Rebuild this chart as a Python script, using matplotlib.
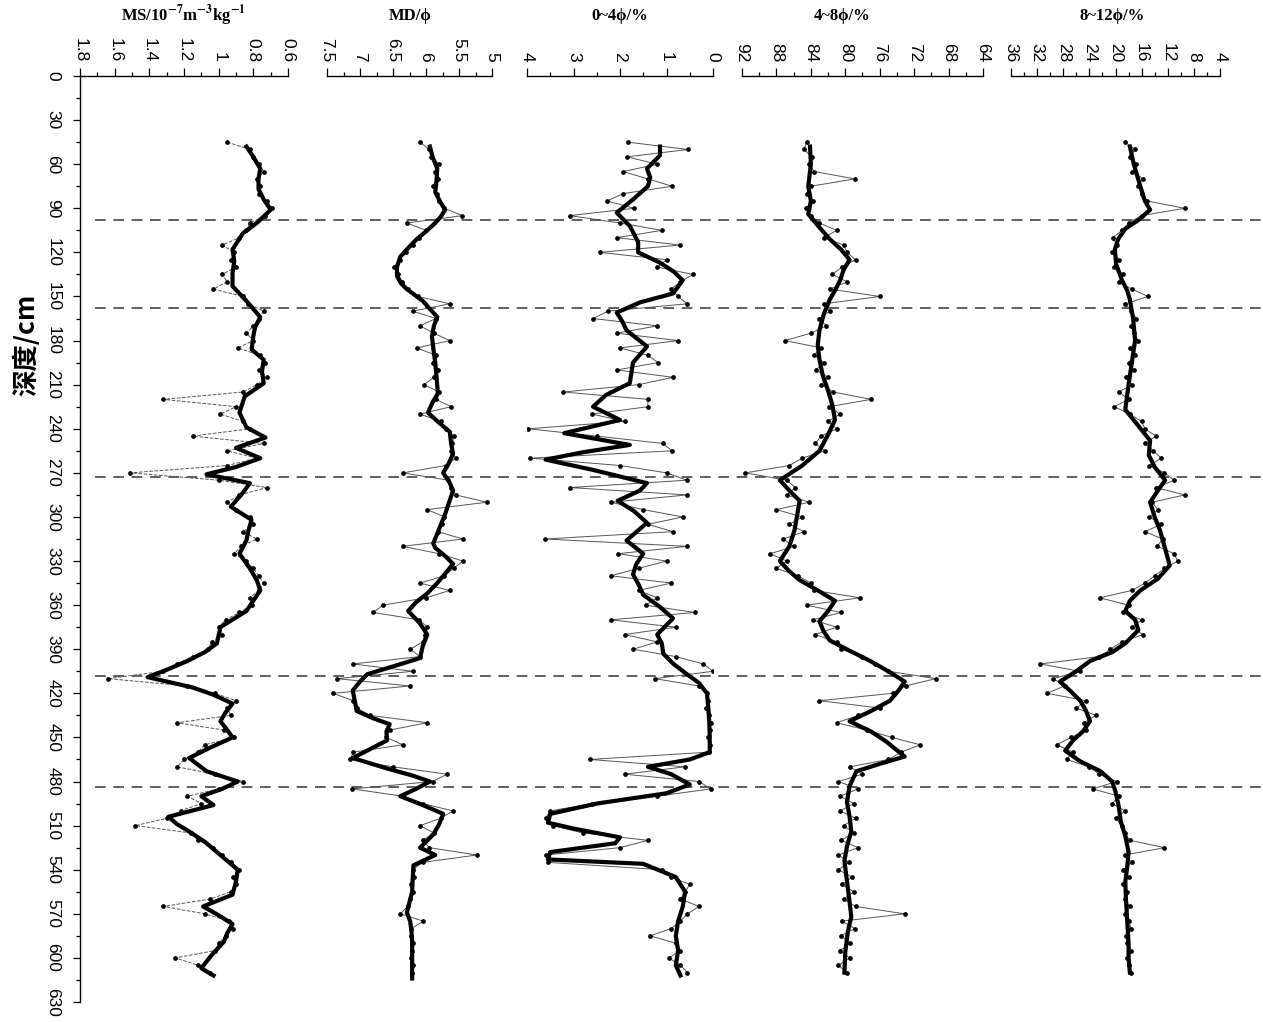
import numpy as np
import matplotlib
matplotlib.use("Agg")
import matplotlib.pyplot as plt
from matplotlib.ticker import MultipleLocator, FormatStrFormatter

plt.rcParams['font.family'] = ['Liberation Sans', 'DejaVu Sans']
plt.rcParams['mathtext.fontset'] = 'stix'

# ---------------- data ----------------
# raw samples every 5 cm, 45-610 cm
raw_depth = np.arange(45, 611, 5)

ms_raw = [0.95, 0.82, 0.80, 0.77, 0.74, 0.78, 0.76, 0.77, 0.72, 0.69,
          0.73, 0.82, 0.84, 0.88, 0.98, 0.91, 0.93, 0.90, 0.98, 0.95,
          1.03, 0.86, 0.83, 0.74, 0.77, 0.80, 0.84, 0.80, 0.89, 0.76,
          0.73, 0.77, 0.72, 0.78, 0.86, 1.32, 0.90, 0.99, 0.86, 0.82,
          1.15, 0.74, 0.95, 0.78, 0.95, 1.51, 1.00, 0.72, 0.88, 0.95,
          0.90, 0.82, 0.80, 0.86, 0.78, 0.87, 0.91, 0.84, 0.80, 0.77,
          0.74, 0.77, 0.82, 0.81, 0.88, 0.96, 1.00, 0.98, 1.04, 1.06,
          1.15, 1.24, 1.32, 1.64, 1.18, 1.02, 0.90, 0.95, 0.93, 1.24,
          0.97, 0.91, 1.08, 1.12, 1.20, 1.24, 1.02, 0.86, 1.00, 1.18,
          1.10, 1.22, 1.30, 1.48, 1.16, 1.12, 1.03, 0.98, 0.93, 0.88,
          0.92, 0.90, 0.93, 1.05, 1.32, 1.08, 0.94, 0.92, 0.96, 1.00,
          1.02, 1.25, 1.12, 1.05]

md_raw = [6.09, 5.95, 5.92, 5.80, 5.86, 5.82, 5.90, 5.84, 5.80, 5.72,
          5.45, 6.29, 6.00, 6.10, 6.20, 6.30, 6.40, 6.48, 6.42, 6.36,
          6.28, 6.12, 5.64, 6.20, 5.85, 6.09, 5.88, 5.64, 6.14, 5.85,
          5.90, 5.82, 5.88, 6.03, 5.80, 5.85, 5.62, 6.09, 5.78, 5.70,
          5.58, 5.60, 5.62, 5.55, 5.70, 6.35, 5.66, 5.62, 5.55, 5.08,
          5.98, 5.72, 5.76, 5.82, 5.44, 6.35, 5.80, 5.44, 5.58, 5.72,
          6.09, 5.64, 6.00, 6.65, 6.80, 6.10, 5.98, 6.02, 6.05, 6.24,
          6.09, 7.11, 6.20, 7.35, 6.24, 7.41, 7.10, 7.05, 6.85, 5.98,
          6.55, 6.60, 6.35, 7.10, 7.15, 6.50, 5.68, 5.90, 7.12, 6.35,
          6.05, 5.59, 5.78, 6.09, 5.88, 6.05, 5.95, 5.23, 6.05, 6.20,
          6.18, 6.22, 6.20, 6.25, 6.28, 6.39, 6.04, 6.22, 6.23, 6.20,
          6.21, 6.22, 6.20, 6.21]

c04_raw = [1.83, 0.54, 1.85, 1.20, 1.93, 1.40, 0.88, 1.93, 2.28, 1.70,
           3.08, 2.00, 1.10, 2.07, 0.71, 2.43, 1.00, 1.20, 0.43, 0.70,
           0.90, 0.75, 0.56, 2.26, 2.58, 1.20, 2.07, 0.75, 2.00, 1.40,
           1.18, 2.07, 0.86, 1.60, 3.22, 1.40, 1.40, 2.60, 1.90, 3.97,
           2.50, 1.08, 0.88, 3.93, 2.00, 1.00, 0.56, 3.08, 0.56, 2.20,
           1.50, 0.65, 1.40, 0.86, 3.61, 0.56, 2.04, 1.00, 1.60, 2.20,
           0.90, 1.60, 1.20, 1.45, 0.39, 2.20, 0.80, 1.90, 1.20, 1.72,
           0.80, 0.21, 0.00, 1.25, 0.30, 0.12, 0.10, 0.15, 0.08, 0.05,
           0.07, 0.10, 0.06, 0.08, 2.65, 0.60, 1.90, 0.30, 0.05, 1.20,
           2.60, 3.50, 3.60, 3.45, 2.80, 1.40, 2.00, 3.60, 3.55, 1.10,
           0.90, 0.50, 0.60, 0.70, 0.30, 0.55, 0.70, 0.90, 1.35, 0.80,
           0.70, 0.95, 0.70, 0.55]

c48_raw = [84.5, 84.8, 83.9, 84.2, 83.6, 78.9, 84.0, 84.5, 83.8, 84.6,
           84.0, 83.0, 81.0, 82.5, 80.2, 79.8, 78.8, 80.4, 81.5, 79.8,
           81.8, 76.0, 82.5, 81.8, 83.0, 82.2, 84.0, 87.0, 82.8, 83.6,
           82.5, 83.4, 82.0, 82.8, 81.4, 77.0, 81.9, 80.6, 82.0, 81.0,
           82.8, 83.5, 82.4, 85.0, 86.5, 91.6, 86.8, 85.8, 86.8, 84.2,
           88.0, 85.0, 86.5, 84.8, 87.2, 86.0, 88.7, 86.8, 88.0, 85.5,
           84.0, 83.6, 78.3, 84.5, 80.5, 83.8, 81.0, 83.5, 81.0, 80.5,
           78.0, 76.5, 75.0, 69.5, 73.0, 74.5, 83.0, 76.0, 78.5, 81.0,
           77.5, 74.6, 71.3, 73.5, 75.0, 79.5, 78.0, 80.8, 78.5, 80.6,
           79.0, 80.6, 78.8, 80.2, 79.0, 80.5, 78.5, 80.8, 79.6, 80.8,
           79.2, 80.4, 79.0, 80.2, 78.8, 73.1, 80.4, 78.9, 80.5, 79.4,
           80.6, 79.5, 80.8, 79.8]

c812_raw = [18.5, 17.0, 17.8, 16.8, 17.4, 15.8, 16.6, 16.0, 15.2, 9.4,
            16.0, 18.0, 19.0, 20.4, 19.8, 20.6, 19.5, 20.2, 18.8, 19.5,
            17.5, 15.0, 18.5, 17.6, 16.8, 17.6, 17.2, 16.5, 17.8, 17.0,
            18.0, 17.2, 18.4, 17.5, 19.5, 18.0, 20.2, 17.8, 16.0, 15.5,
            13.8, 15.5, 14.2, 13.0, 14.8, 12.5, 11.0, 13.8, 9.4, 14.4,
            13.5, 14.8, 13.0, 15.5, 12.8, 13.6, 11.0, 10.5, 12.5, 14.0,
            15.5, 17.5, 22.4, 18.0, 18.8, 16.0, 17.5, 15.8, 19.0, 20.8,
            22.5, 31.5, 25.5, 29.5, 27.8, 30.5, 24.5, 26.0, 23.0, 24.8,
            24.5, 26.8, 29.0, 26.5, 27.5, 24.0, 22.5, 19.8, 23.5, 19.5,
            20.5, 18.5, 20.0, 19.0, 18.6, 17.8, 12.5, 18.6, 17.5, 18.8,
            18.0, 18.8, 18.2, 18.6, 17.8, 18.5, 18.0, 17.6, 18.4, 18.2,
            17.6, 18.3, 17.9, 17.7]

# smoothed curves (bold lines)
ms_sm_depth = [48, 55, 63, 70, 77, 84, 91, 100, 107, 118, 126, 134, 143, 153, 164, 171, 177,
               186, 193, 201, 209, 218, 229, 239, 246, 253, 260, 266, 271, 277, 285, 293, 302,
               310, 316, 325, 335, 343, 350, 357, 364, 375, 386, 392, 398, 404, 409, 416, 421,
               427, 433, 439, 445, 450, 457, 464, 473, 480, 485, 490, 496, 504, 509, 514, 521,
               528, 534, 540, 548, 557, 565, 571, 577, 583, 589, 598, 607, 612]
ms_sm = [0.84, 0.80, 0.76, 0.77, 0.77, 0.74, 0.70, 0.78, 0.86, 0.92, 0.91, 0.92, 0.92, 0.84,
         0.76, 0.79, 0.80, 0.81, 0.74, 0.75, 0.74, 0.85, 0.88, 0.84, 0.73, 0.90, 0.76, 0.90,
         1.07, 0.82, 0.87, 0.93, 0.81, 0.83, 0.84, 0.88, 0.82, 0.78, 0.76, 0.80, 0.84, 0.99,
         1.01, 1.08, 1.18, 1.30, 1.41, 1.15, 1.03, 0.92, 0.96, 0.99, 0.95, 0.92, 1.05, 1.17,
         1.07, 0.89, 0.98, 1.10, 1.03, 1.29, 1.24, 1.17, 1.08, 1.01, 0.95, 0.89, 0.90, 0.92,
         1.09, 1.00, 0.92, 0.95, 0.97, 1.04, 1.10, 1.03]

md_sm_depth = [48, 55, 63, 71, 79, 86, 91, 96, 100, 105, 111, 117, 123, 130, 136, 141, 145,
               149, 153, 158, 164, 170, 177, 185, 195, 205, 216, 222, 229, 236, 242, 250, 257,
               264, 270, 276, 282, 290, 298, 308, 318, 321, 327, 332, 338, 345, 352, 358, 364,
               372, 380, 388, 396, 401, 407, 412, 418, 425, 432, 437, 441, 446, 452, 458, 464,
               471, 476, 480, 485, 490, 496, 502, 509, 516, 521, 525, 530, 534, 537, 545, 555,
               562, 569, 575, 582, 589, 600, 614]
md_sm = [5.94, 5.90, 5.83, 5.84, 5.86, 5.78, 5.71, 5.78, 5.86, 5.98, 6.14, 6.27, 6.39, 6.44,
         6.44, 6.38, 6.29, 6.17, 6.05, 5.95, 5.83, 5.88, 5.91, 5.89, 5.86, 5.84, 5.82, 5.90,
         5.97, 5.80, 5.64, 5.62, 5.59, 5.66, 5.74, 5.65, 5.59, 5.65, 5.71, 5.80, 5.89, 5.86,
         5.70, 5.59, 5.70, 5.83, 5.98, 6.15, 6.27, 6.10, 5.98, 6.05, 6.09, 6.45, 6.89, 7.00,
         7.11, 7.08, 7.05, 6.80, 6.55, 6.60, 6.59, 6.85, 7.11, 6.60, 6.20, 5.94, 6.15, 6.39,
         6.05, 5.74, 5.80, 5.89, 6.00, 6.09, 5.86, 6.05, 6.19, 6.20, 6.21, 6.25, 6.29, 6.24,
         6.22, 6.21, 6.21, 6.21]

c04_sm_depth = [48, 54, 63, 69, 75, 84, 93, 102, 113, 120, 127, 133, 139, 148, 154, 161, 167,
                173, 184, 195, 209, 217, 225, 234, 243, 251, 256, 261, 268, 277, 282, 289, 296,
                304, 316, 325, 332, 339, 346, 353, 361, 369, 380, 386, 393, 400, 407, 413, 420,
                430, 440, 450, 460, 465, 470, 475, 482, 488, 495, 502, 508, 512, 518, 522, 528,
                533, 536, 545, 555, 565, 575, 585, 595, 605, 612]
c04_sm = [1.14, 1.14, 1.42, 1.35, 1.40, 1.72, 2.07, 1.79, 1.61, 1.61, 1.14, 0.85, 0.65, 0.86,
          1.57, 2.07, 1.95, 1.86, 1.42, 1.72, 1.79, 2.30, 2.58, 2.00, 3.20, 1.79, 2.80, 3.60,
          2.58, 1.42, 1.57, 2.05, 1.70, 1.42, 1.86, 1.50, 1.65, 1.72, 1.60, 1.50, 1.15, 0.86,
          1.20, 1.10, 1.07, 0.85, 0.56, 0.30, 0.13, 0.10, 0.08, 0.07, 0.07, 0.50, 1.40, 0.90,
          0.50, 1.00, 2.50, 3.50, 3.55, 3.00, 2.00, 2.10, 3.50, 3.55, 1.50, 0.80, 0.60, 0.65,
          0.75, 0.80, 0.75, 0.80, 0.70]

c48_sm_depth = [48, 60, 75, 85, 94, 103, 111, 118, 125, 132, 139, 146, 152, 162, 173, 183, 193,
                204, 214, 224, 234, 244, 255, 265, 275, 282, 289, 299, 309, 320, 330, 337, 343,
                350, 357, 364, 371, 378, 384, 391, 398, 405, 412, 418, 425, 432, 439, 446, 453,
                463, 468, 473, 483, 494, 504, 514, 524, 534, 548, 562, 572, 582, 596, 610]
c48_sm = [84.1, 84.0, 84.3, 84.0, 84.3, 83.0, 81.8, 80.5, 79.5, 80.2, 80.6, 81.2, 81.8, 82.5,
          83.0, 83.2, 83.0, 82.6, 82.0, 81.5, 81.2, 82.0, 83.0, 85.0, 87.6, 86.5, 85.3, 85.6,
          85.9, 86.5, 87.6, 86.5, 85.3, 83.2, 81.2, 82.0, 83.0, 82.5, 81.8, 79.5, 77.1, 75.0,
          73.1, 73.8, 74.8, 77.0, 79.5, 77.0, 75.2, 73.1, 76.0, 78.7, 79.5, 79.8, 79.5, 79.3,
          79.8, 80.1, 79.8, 79.5, 79.3, 79.7, 80.0, 80.1]

c812_sm_depth = [48, 60, 75, 85, 91, 98, 104, 111, 118, 128, 139, 146, 152, 165, 180, 195, 210,
                 227, 238, 248, 258, 266, 275, 282, 290, 300, 309, 320, 333, 342, 350, 357, 364,
                 370, 377, 386, 392, 398, 405, 412, 418, 425, 432, 439, 446, 452, 459, 466, 473,
                 480, 487, 497, 507, 517, 528, 538, 548, 560, 575, 590, 600, 610]
c812_sm = [17.8, 17.2, 16.2, 15.5, 14.7, 16.5, 18.5, 19.6, 20.1, 19.9, 19.0, 18.2, 17.8, 17.3,
           17.0, 17.5, 18.0, 18.5, 16.5, 14.7, 14.9, 14.0, 12.4, 13.5, 14.7, 14.0, 13.2, 12.5,
           11.7, 13.5, 16.2, 17.8, 18.5, 17.0, 16.5, 18.5, 20.5, 23.9, 26.0, 28.5, 27.0, 25.4,
           24.5, 23.9, 25.0, 26.5, 27.7, 25.5, 22.3, 20.5, 20.0, 19.5, 19.2, 18.5, 18.0, 18.2,
           18.5, 18.4, 18.2, 18.0, 18.0, 17.8]

boundary_depths = [98, 158, 273, 408, 484]

titles = [r'MS/10$^{\mathbf{-7}}$m$^{\mathbf{-3}}$kg$^{\mathbf{-1}}$', 'MD/ϕ', '0~4ϕ/%', '4~8ϕ/%', '8~12ϕ/%']
title_x = [183, 410, 620, 842, 1112]

# ---------------- layout ----------------
W, H = 1263, 1022
fig = plt.figure(figsize=(W / 100, H / 100), dpi=100)
top_px, bot_px = 76, 1002
b = 1 - bot_px / H
h = (bot_px - top_px) / H

# panel: (x0, x1, xlim, major, minor, raw, sm_depth, sm, raw_style)
panels = [
    (80, 288, (1.8, 0.6), 0.2, 0.1, ms_raw, ms_sm_depth, ms_sm, '--'),
    (327, 492, (7.5, 5.0), 0.5, 0.25, md_raw, md_sm_depth, md_sm, '-'),
    (527, 713, (4.0, 0.0), 1.0, 0.5, c04_raw, c04_sm_depth, c04_sm, '-'),
    (742, 983, (92, 64), 4, 2, c48_raw, c48_sm_depth, c48_sm, '-'),
    (1011, 1220, (36, 4), 4, 2, c812_raw, c812_sm_depth, c812_sm, '-'),
]

# dashed boundary lines across all panels
ax_bg = fig.add_axes([95 / W, b, (W - 95) / W, h])
ax_bg.set_ylim(630, 0)
ax_bg.set_xlim(0, 1)
ax_bg.axis('off')
for d in boundary_depths:
    ax_bg.plot([0, 1], [d, d], color='#333333', lw=1.1, dashes=(7, 5))

for i, (x0, x1, xlim, major, minor, raw, sm_d, sm, ls) in enumerate(panels):
    ax = fig.add_axes([x0 / W, b, (x1 - x0) / W, h])
    ax.patch.set_alpha(0)
    ax.set_xlim(*xlim)
    ax.set_ylim(630, 0)

    ax.plot(raw, raw_depth, color='#555555', lw=0.7, ls=ls,
            marker='o', ms=2.4, mfc='black', mec='black')
    ax.plot(sm, sm_d, color='black', lw=3.0, solid_joinstyle='round')

    for s in ['bottom', 'right']:
        ax.spines[s].set_visible(False)
    ax.spines['top'].set_linewidth(1.0)
    ax.xaxis.tick_top()
    ax.xaxis.set_major_locator(MultipleLocator(major))
    ax.xaxis.set_minor_locator(MultipleLocator(minor))
    ax.xaxis.set_major_formatter(FormatStrFormatter('%g'))
    ax.tick_params(axis='x', which='major', direction='out', length=6, width=0.9,
                   labelsize=12.5, labelrotation=-90, pad=4)
    ax.tick_params(axis='x', which='minor', direction='out', length=3, width=0.9)

    if i == 0:
        ax.spines['left'].set_linewidth(1.0)
        ax.yaxis.set_major_locator(MultipleLocator(30))
        ax.yaxis.set_minor_locator(MultipleLocator(15))
        ax.tick_params(axis='y', which='major', direction='out', length=5, width=0.9,
                       labelsize=12.5, labelrotation=-90, pad=9)
        ax.tick_params(axis='y', which='minor', direction='out', length=3, width=0.9)
        for lab in ax.get_yticklabels():
            lab.set_va('center')
    else:
        ax.spines['left'].set_visible(False)
        ax.set_yticks([])

    fig.text(title_x[i] / W, 1 - 16 / H, titles[i], ha='center', va='center',
             fontsize=12, fontweight='bold',
             family=['Liberation Serif', 'DejaVu Serif'])

fig.text(26 / W, 1 - 345 / H, '深度/cm', rotation=90, ha='center', va='center',
         fontsize=19, fontweight='bold', family=['Noto Sans CJK SC', 'DejaVu Sans'])

fig.savefig('out.png', dpi=100)
